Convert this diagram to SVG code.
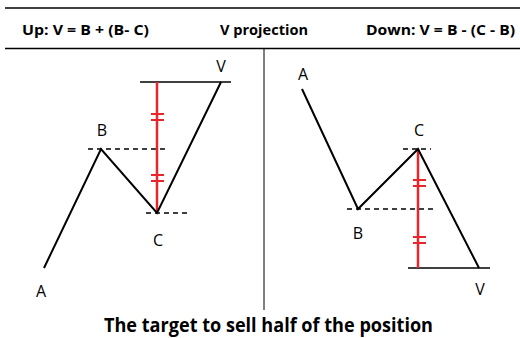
<svg xmlns="http://www.w3.org/2000/svg" width="520" height="338" viewBox="0 0 520 338">
<style>
.hdr{font-family:"Open Sans","Liberation Sans",sans-serif;font-weight:bold;font-size:15px;fill:#000}
.lbl{font-family:"Open Sans","Liberation Sans",sans-serif;font-size:16px;fill:#000;text-anchor:middle}
.title{font-family:"Open Sans","Liberation Sans",sans-serif;font-weight:bold;font-size:19px;fill:#000}
.wave{fill:none;stroke:#000;stroke-width:2;stroke-linejoin:miter}
.dash{stroke:#000;stroke-width:1.3;stroke-dasharray:5,4}
.lvl{stroke:#000;stroke-width:1.5}
.red{stroke:#e8262b;stroke-width:2.5}
.tick{stroke:#e8262b;stroke-width:2}
.rule{stroke:#000;stroke-width:1.3}
</style>
<rect width="520" height="338" fill="#fff"/>
<g id="header">
<line class="rule" x1="5" y1="8" x2="520" y2="8"/>
<line class="rule" x1="5" y1="48.5" x2="520" y2="48.5"/>
<text class="hdr" x="22" y="34.5" textLength="127" lengthAdjust="spacingAndGlyphs">Up: V = B + (B- C)</text>
<text class="hdr" x="220" y="34.5" textLength="88" lengthAdjust="spacingAndGlyphs">V projection</text>
<text class="hdr" x="366" y="34.5" textLength="149" lengthAdjust="spacingAndGlyphs">Down: V = B - (C - B)</text>
</g>
<line id="divider" x1="264" y1="48.5" x2="264" y2="310" stroke="#000" stroke-width="1"/>
<g id="up-panel">
<line class="dash" x1="88" y1="149" x2="167" y2="149"/>
<line class="dash" x1="146" y1="213" x2="188" y2="213"/>
<line class="lvl" x1="140" y1="82" x2="231" y2="82"/>
<line class="red" x1="157" y1="82" x2="157" y2="213"/>
<g class="tick">
<line x1="151" y1="114" x2="164" y2="114"/><line x1="151" y1="120" x2="164" y2="120"/>
<line x1="151" y1="175" x2="164" y2="175"/><line x1="151" y1="181" x2="164" y2="181"/>
</g>
<polyline class="wave" points="44,268 101,149 157,213 221,82"/>
<text class="lbl" x="41" y="297">A</text>
<text class="lbl" x="102" y="136">B</text>
<text class="lbl" x="158" y="245.5">C</text>
<text class="lbl" x="221" y="72">V</text>
</g>
<g id="down-panel">
<line class="dash" x1="347" y1="209" x2="434" y2="209"/>
<line class="dash" x1="403" y1="149" x2="431" y2="149"/>
<line class="lvl" x1="408" y1="268" x2="490" y2="268"/>
<line class="red" x1="418" y1="149" x2="418" y2="268"/>
<g class="tick">
<line x1="413" y1="180" x2="426" y2="180"/><line x1="413" y1="186" x2="426" y2="186"/>
<line x1="413" y1="237" x2="426" y2="237"/><line x1="413" y1="243" x2="426" y2="243"/>
</g>
<polyline class="wave" points="302,89 358,209 418,149 479,268"/>
<text class="lbl" x="303" y="79.5">A</text>
<text class="lbl" x="358" y="238.5">B</text>
<text class="lbl" x="419" y="135.5">C</text>
<text class="lbl" x="480" y="294.5">V</text>
</g>
<text id="caption" class="title" x="104" y="331.5" textLength="329" lengthAdjust="spacingAndGlyphs">The target to sell half of the position</text>
</svg>
